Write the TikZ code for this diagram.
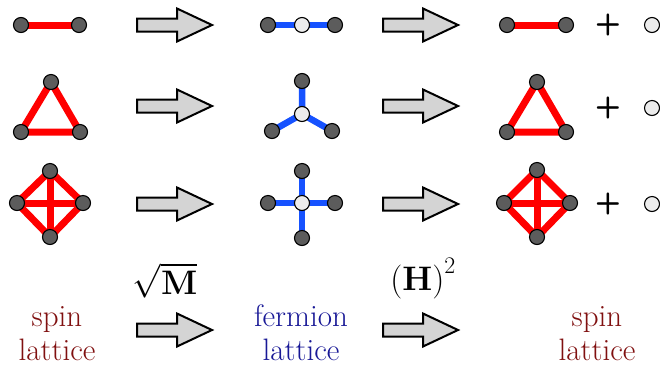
\RequirePackage{fix-cm}
\documentclass[tikz,border=0pt]{standalone}
\usetikzlibrary{backgrounds}
\definecolor{sitegray}{RGB}{92,92,92}
\definecolor{sitelight}{RGB}{236,236,236}
\definecolor{bondred}{RGB}{255,0,0}
\definecolor{bondblue}{RGB}{22,82,255}
\definecolor{spinred}{RGB}{128,16,16}
\definecolor{fermblue}{RGB}{24,24,150}
\definecolor{arrowgray}{RGB}{212,212,212}
\tikzset{
  site/.style={circle,draw=black,line width=1.1pt,fill=sitegray,minimum size=15pt,inner sep=0pt},
  fsite/.style={site,fill=sitelight},
  redbond/.style={draw=bondred,line width=7pt},
  bluebond/.style={draw=bondblue,line width=6.5pt},
  fatarrow/.style={draw=black,fill=arrowgray,line width=2pt,line join=miter},
  bigtext/.style={font=\fontsize{31}{37}\selectfont,anchor=base},
  mathtext/.style={font=\fontsize{34}{40}\selectfont,anchor=base},
  plussign/.style={font=\fontsize{30}{30}\selectfont\sffamily\bfseries}
}
\newcommand\fatarrowat[3]{\draw[fatarrow] (#2,#3) ++(0,-6.5) -- ++(40,0) -- ++(0,-10) -- ++(35,16.5) -- ++(-35,16.5) -- ++(0,-10) -- ++(-40,0) -- cycle;}
\begin{document}
\begin{tikzpicture}[x=1pt,y=-1pt]
\useasboundingbox (0,0) rectangle (660,368);
% ---------- row 1
\node[site] (a1) at (21,25) {};
\node[site] (a2) at (79,25) {};
\node[site] (f1) at (268,25) {};
\node[fsite] (f0) at (302,25) {};
\node[site] (f2) at (335,25) {};
\node[site] (r1) at (507,25) {};
\node[site] (r2) at (566,25) {};
\node[plussign] (p1) at (608,25) {+};
\node[fsite] (w1) at (652,25) {};
% ---------- row 2
\node[site] (b1) at (51,82) {};
\node[site] (b2) at (21,132) {};
\node[site] (b3) at (80,132) {};
\node[fsite] (g0) at (302,114) {};
\node[site] (g1) at (302,81) {};
\node[site] (g2) at (272,131) {};
\node[site] (g3) at (332,131) {};
\node[site] (s1) at (537,82) {};
\node[site] (s2) at (507,132) {};
\node[site] (s3) at (566,132) {};
\node[plussign] (p2) at (608,108) {+};
\node[fsite] (w2) at (652,108) {};
% ---------- row 3
\node[site] (c1) at (50,171) {};
\node[site] (c2) at (17,203) {};
\node[site] (c3) at (83,203) {};
\node[site] (c4) at (50,237) {};
\node[fsite] (h0) at (302,203) {};
\node[site] (h1) at (302,171) {};
\node[site] (h2) at (268,203) {};
\node[site] (h3) at (335,203) {};
\node[site] (h4) at (302,238) {};
\node[site] (t1) at (537,170) {};
\node[site] (t2) at (504,203) {};
\node[site] (t3) at (570,203) {};
\node[site] (t4) at (537,237) {};
\node[plussign] (p3) at (608,204) {+};
\node[fsite] (w3) at (652,204) {};
% ---------- bonds
\begin{pgfonlayer}{background}
\draw[redbond] (a1.center) -- (a2.center);
\draw[bluebond] (f1.center) -- (f2.center);
\draw[redbond] (r1.center) -- (r2.center);
\draw[redbond,line join=round] (b1.center) -- (b2.center) -- (b3.center) -- cycle;
\draw[bluebond] (g0.center) -- (g1.center) (g0.center) -- (g2.center) (g0.center) -- (g3.center);
\draw[redbond,line join=round] (s1.center) -- (s2.center) -- (s3.center) -- cycle;
\draw[redbond,line join=round] (c1.center) -- (c2.center) -- (c4.center) -- (c3.center) -- cycle;
\draw[redbond] (c1.center) -- (c4.center) (c2.center) -- (c3.center);
\draw[bluebond] (h1.center) -- (h4.center) (h2.center) -- (h3.center);
\draw[redbond,line join=round] (t1.center) -- (t2.center) -- (t4.center) -- (t3.center) -- cycle;
\draw[redbond] (t1.center) -- (t4.center) (t2.center) -- (t3.center);
\end{pgfonlayer}
% ---------- arrows
\fatarrowat{A}{137}{25}
\fatarrowat{B}{383}{25}
\fatarrowat{C}{137}{106}
\fatarrowat{D}{383}{106}
\fatarrowat{E}{137}{204}
\fatarrowat{F}{383}{204}
\fatarrowat{G}{137}{330}
\fatarrowat{H}{383}{330}
% ---------- labels
\node[bigtext,text=spinred] (l1) at (57,326) {spin};
\node[bigtext,text=spinred] (l2) at (57,360) {lattice};
\node[bigtext,text=fermblue] (l3) at (301,326) {fermion};
\node[bigtext,text=fermblue] (l4) at (301,360) {lattice};
\node[bigtext,text=spinred] (l5) at (597,326) {spin};
\node[bigtext,text=spinred] (l6) at (597,360) {lattice};
\node[mathtext] (m1) at (165,294) {$\sqrt{\mathbf{M}}$};
\node[mathtext] (m2) at (423,290) {$\Bigl(\mathbf{H}\Bigr)^2$};
\end{tikzpicture}
\end{document}
